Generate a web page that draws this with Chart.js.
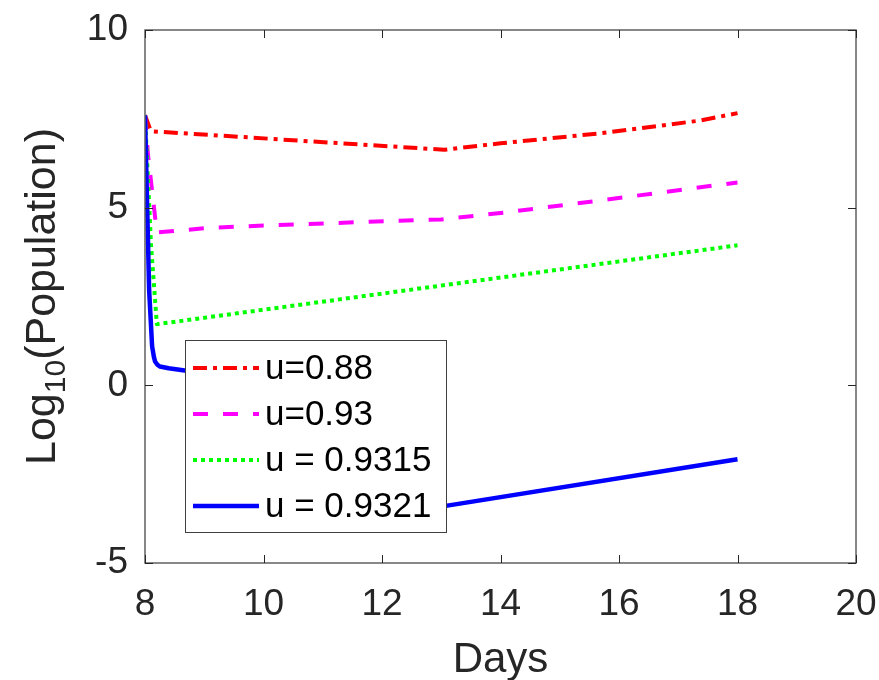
<!DOCTYPE html>
<html>
<head>
<meta charset="utf-8">
<script src="https://cdn.jsdelivr.net/npm/chart.js@4.4.1/dist/chart.umd.min.js"></script>
<style>
  html, body { margin: 0; padding: 0; background: #ffffff; }
  #wrap { width: 879px; height: 680px; }
</style>
</head>
<body>
<div id="wrap"><canvas id="popChart" width="879" height="680"></canvas></div>
<script>
// values
const seriesLabels = ["u=0.88", "u=0.93", "u = 0.9315", "u = 0.9321"];

const redDays = [8, 8.1, 13.05, 14, 15.67, 17.36, 18];
const redLog = [7.6, 7.15, 6.63, 6.81, 7.09, 7.45, 7.66];

const magentaDays = [8, 8.05, 8.2, 9, 10, 13, 14, 15.67, 18];
const magentaLog = [7.6, 6.5, 4.3, 4.42, 4.5, 4.67, 4.85, 5.2, 5.71];

const greenDays = [8, 8.1, 8.2, 18];
const greenLog = [7.6, 4.0, 1.72, 3.94];

const blueDays = [8, 8.07, 8.12, 8.15, 8.17, 8.21, 8.25, 8.4, 8.67, 9, 13.05, 18];
const blueLog = [7.6, 2.67, 1.1, 0.8, 0.67, 0.58, 0.53, 0.48, 0.42, 0.35, -3.4, -2.08];

const xTicks = [8, 10, 12, 14, 16, 18, 20];
const yTicks = [-5, 0, 5, 10];

const FONT = "'Liberation Sans', Arial, Helvetica, sans-serif";

function toPoints(days, values) {
  return days.map((d, i) => ({ x: d, y: values[i] }));
}

function makeDataset(label, days, values, color, dash, width, order) {
  return {
    label: label,
    data: toPoints(days, values),
    borderColor: color,
    backgroundColor: color,
    borderWidth: width,
    borderDash: dash,
    borderCapStyle: "butt",
    borderJoinStyle: "round",
    pointRadius: 0,
    tension: 0,
    fill: false,
    order: order
  };
}

// box, inward ticks, axis titles
const matlabAxes = {
  id: "matlabAxes",
  afterDatasetsDraw(chart) {
    const { ctx, chartArea, scales } = chart;
    const { left, right, top, bottom } = chartArea;
    ctx.save();
    ctx.strokeStyle = "#606060";
    ctx.lineWidth = 1.5;
    ctx.strokeRect(left, top, right - left, bottom - top);

    ctx.strokeStyle = "#262626";
    ctx.lineWidth = 1;
    const tl = 8;
    xTicks.forEach((v) => {
      const px = Math.round(scales.x.getPixelForValue(v)) + 0.5;
      ctx.beginPath();
      ctx.moveTo(px, bottom); ctx.lineTo(px, bottom - tl);
      ctx.moveTo(px, top); ctx.lineTo(px, top + tl);
      ctx.stroke();
    });
    yTicks.forEach((v) => {
      const py = Math.round(scales.y.getPixelForValue(v)) + 0.5;
      ctx.beginPath();
      ctx.moveTo(left, py); ctx.lineTo(left + tl, py);
      ctx.moveTo(right, py); ctx.lineTo(right - tl, py);
      ctx.stroke();
    });

    // x title
    ctx.fillStyle = "#262626";
    ctx.font = "42px " + FONT;
    ctx.textAlign = "center";
    ctx.textBaseline = "alphabetic";
    ctx.fillText("Days", (left + right) / 2, 672);

    // y title with subscript
    const cy = (top + bottom) / 2;
    const bigFont = "43px " + FONT;
    const subFont = "30px " + FONT;
    ctx.font = bigFont;
    const wLog = ctx.measureText("Log").width;
    const wRest = ctx.measureText("(Population)").width;
    ctx.font = subFont;
    const wSub = ctx.measureText("10").width;
    const total = wLog + wSub + wRest;
    ctx.translate(55, cy);
    ctx.rotate(-Math.PI / 2);
    ctx.textAlign = "left";
    let x0 = -total / 2;
    ctx.font = bigFont;
    ctx.fillText("Log", x0, 0);
    x0 += wLog;
    ctx.font = subFont;
    ctx.fillText("10", x0, 10);
    x0 += wSub;
    ctx.font = bigFont;
    ctx.fillText("(Population)", x0, 0);
    ctx.restore();
  }
};

// legend box drawn inside the plot area
const insideLegend = {
  id: "insideLegend",
  afterDraw(chart) {
    const { ctx, chartArea } = chart;
    const bx = chartArea.left + 40;
    const by = chartArea.top + 310;
    const bw = 261;
    const bh = 192;
    ctx.save();
    ctx.fillStyle = "#ffffff";
    ctx.fillRect(bx, by, bw, bh);
    ctx.strokeStyle = "#404040";
    ctx.lineWidth = 1;
    ctx.strokeRect(bx + 0.5, by + 0.5, bw, bh);

    chart.data.datasets.forEach((ds, row) => {
      const yy = by + 28 + row * 46;
      ctx.strokeStyle = ds.borderColor;
      ctx.lineWidth = ds.borderWidth;
      ctx.setLineDash(ds.borderDash);
      ctx.lineCap = "butt";
      ctx.beginPath();
      ctx.moveTo(bx + 8, yy);
      ctx.lineTo(bx + 74, yy);
      ctx.stroke();
      ctx.setLineDash([]);
      ctx.fillStyle = "#000000";
      ctx.font = "35px " + FONT;
      ctx.textAlign = "left";
      ctx.textBaseline = "middle";
      ctx.fillText(ds.label, bx + 80, yy + 1);
    });
    ctx.restore();
  }
};

new Chart(document.getElementById("popChart"), {
  type: "line",
  data: {
    datasets: [
      makeDataset(seriesLabels[0], redDays, redLog, "#ff0000", [14, 6, 4, 6], 4, 3),
      makeDataset(seriesLabels[1], magentaDays, magentaLog, "#ff00ff", [15, 15], 4, 2),
      makeDataset(seriesLabels[2], greenDays, greenLog, "#00ff00", [4, 4], 4, 1),
      makeDataset(seriesLabels[3], blueDays, blueLog, "#0000ff", [], 4.5, 0)
    ]
  },
  options: {
    responsive: false,
    animation: false,
    devicePixelRatio: 1,
    layout: { padding: { top: 30, right: 23, left: 0, bottom: 0 } },
    plugins: {
      legend: { display: false },
      tooltip: { enabled: false }
    },
    scales: {
      x: {
        type: "linear",
        min: 8,
        max: 20,
        afterFit(scale) {
          scale.height = 117;
          scale.paddingLeft = 0;
          scale.paddingRight = 0;
        },
        afterBuildTicks(scale) { scale.ticks = xTicks.map((v) => ({ value: v })); },
        grid: { display: false, drawTicks: false },
        border: { display: false },
        ticks: {
          color: "#262626",
          padding: 20,
          maxRotation: 0,
          font: { family: FONT, size: 37 }
        }
      },
      y: {
        type: "linear",
        min: -5,
        max: 10,
        afterFit(scale) {
          scale.width = 145;
          scale.paddingTop = 0;
          scale.paddingBottom = 0;
        },
        afterBuildTicks(scale) { scale.ticks = yTicks.map((v) => ({ value: v })); },
        grid: { display: false, drawTicks: false },
        border: { display: false },
        ticks: {
          color: "#262626",
          padding: 17,
          font: { family: FONT, size: 37 }
        }
      }
    }
  },
  plugins: [matlabAxes, insideLegend]
});
</script>
</body>
</html>
